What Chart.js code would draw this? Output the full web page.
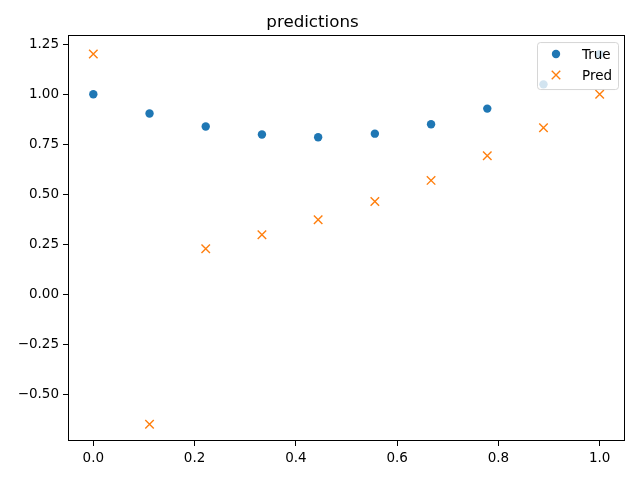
<!DOCTYPE html>
<html>
<head>
<meta charset="utf-8">
<script src="https://cdn.jsdelivr.net/npm/chart.js@4.4.1/dist/chart.umd.min.js"></script>
<style>
  html, body { margin: 0; padding: 0; background: #fff; }
  #wrap { width: 640px; height: 480px; }
</style>
</head>
<body>
<div id="wrap"><canvas id="chart" width="640" height="480"></canvas></div>
<script>
// values
const xValues = [0, 0.111, 0.222, 0.333, 0.444, 0.556, 0.667, 0.778, 0.889, 1.0];
const trueValues = [1.0, 0.904, 0.839, 0.799, 0.785, 0.803, 0.85, 0.928, 1.049, 1.2];
const predValues = [1.2, -0.647, 0.229, 0.299, 0.374, 0.465, 0.57, 0.693, 0.833, 1.0];
const xTicks = [0.0, 0.2, 0.4, 0.6, 0.8, 1.0];
const yTicks = [-0.5, -0.25, 0, 0.25, 0.5, 0.75, 1.0, 1.25];

const FONT = "'DejaVu Sans', sans-serif";

function toPoints(ys) {
  return xValues.map((x, i) => ({ x: x, y: ys[i] }));
}

// black frame round the plot area
const framePlugin = {
  id: 'frame',
  afterDatasetsDraw(chart) {
    const a = chart.chartArea;
    const ctx = chart.ctx;
    ctx.save();
    ctx.strokeStyle = '#000';
    ctx.lineWidth = 1;
    ctx.strokeRect(Math.round(a.left) + 0.5, Math.round(a.top) + 0.5,
      Math.round(a.right - a.left) - 1, Math.round(a.bottom - a.top) - 1);
    ctx.restore();
  }
};

// matplotlib-style legend in the upper right corner, drawn over the points
const boxLegend = {
  id: 'boxLegend',
  afterDatasetsDraw(chart) {
    const a = chart.chartArea;
    const ctx = chart.ctx;
    const sets = chart.data.datasets;
    const w = 81, rowH = 21;
    const h = sets.length * rowH + 5;
    const x0 = a.right - w - 7, y0 = a.top + 7;
    ctx.save();
    ctx.beginPath();
    ctx.roundRect(x0 + 0.5, y0 + 0.5, w, h, 3);
    ctx.fillStyle = 'rgba(255,255,255,0.8)';
    ctx.fill();
    ctx.strokeStyle = 'rgba(204,204,204,0.8)';
    ctx.lineWidth = 1;
    ctx.stroke();
    ctx.font = '13.5px ' + FONT;
    ctx.textBaseline = 'middle';
    ctx.textAlign = 'left';
    sets.forEach((ds, i) => {
      const cy = y0 + 12 + i * rowH;
      const mx = x0 + 19;
      ctx.fillStyle = ds.backgroundColor;
      ctx.strokeStyle = ds.borderColor;
      ctx.lineWidth = ds.borderWidth;
      Chart.helpers.drawPoint(ctx, {
        pointStyle: ds.pointStyle,
        radius: ds.pointRadius,
        borderWidth: ds.borderWidth
      }, mx, cy);
      ctx.fillStyle = '#000';
      ctx.fillText(ds.label, x0 + 45, cy + 1);
    });
    ctx.restore();
  }
};

new Chart(document.getElementById('chart'), {
  type: 'scatter',
  data: {
    datasets: [{
      label: 'True',
      data: toPoints(trueValues),
      pointStyle: 'circle',
      pointRadius: 4.2,
      pointHoverRadius: 4.2,
      backgroundColor: '#1f77b4',
      borderColor: '#1f77b4',
      borderWidth: 0
    }, {
      label: 'Pred',
      data: toPoints(predValues),
      pointStyle: 'crossRot',
      pointRadius: 6,
      pointHoverRadius: 6,
      backgroundColor: '#ff7f0e',
      borderColor: '#ff7f0e',
      borderWidth: 1.4
    }]
  },
  plugins: [framePlugin, boxLegend],
  options: {
    responsive: false,
    animation: false,
    devicePixelRatio: 1,
    layout: { padding: { left: 0, right: 15, top: 0, bottom: 0 } },
    plugins: {
      legend: { display: false },
      tooltip: { enabled: false },
      title: {
        display: true,
        text: 'predictions',
        color: '#000',
        font: { family: FONT, size: 16.7, weight: 'normal' },
        padding: { top: 13, bottom: 2 }
      }
    },
    scales: {
      x: {
        type: 'linear',
        min: -0.05,
        max: 1.05,
        afterBuildTicks: s => { s.ticks = xTicks.map(v => ({ value: v })); },
        afterFit: s => { s.height = 39; },
        grid: { drawOnChartArea: false, drawTicks: true, tickLength: 5, color: '#000' },
        border: { display: false },
        ticks: {
          color: '#000',
          padding: 4,
          maxRotation: 0,
          font: { family: FONT, size: 13.5 },
          callback: v => v.toFixed(1)
        }
      },
      y: {
        type: 'linear',
        min: -0.73,
        max: 1.295,
        afterBuildTicks: s => { s.ticks = yTicks.map(v => ({ value: v })); },
        afterFit: s => { s.width = 68; },
        grid: { drawOnChartArea: false, drawTicks: true, tickLength: 5, color: '#000' },
        border: { display: false },
        ticks: {
          color: '#000',
          padding: 4,
          font: { family: FONT, size: 13.5 },
          callback: v => (v < 0 ? '\u2212' + Math.abs(v).toFixed(2) : v.toFixed(2))
        }
      }
    }
  }
});
</script>
</body>
</html>
